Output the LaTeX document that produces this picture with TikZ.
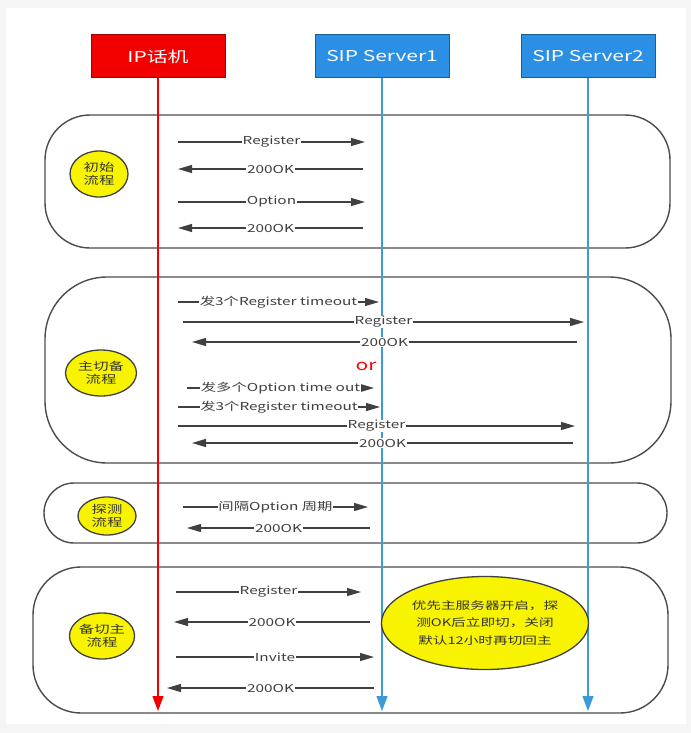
\documentclass[tikz,border=0pt]{standalone}
\usepackage{fontspec}
\setmainfont[FakeStretch=1.4]{Noto Sans CJK SC}
\usetikzlibrary{arrows.meta,shapes.geometric}
\definecolor{phonered}{HTML}{F20000}
\definecolor{srvblue}{HTML}{2B8FE3}
\definecolor{lifeblue}{HTML}{3C9AD8}
\definecolor{flowyellow}{HTML}{F8F400}
\tikzset{
  head/.style={draw=#1!65!black,fill=#1,text=white,line width=1bp,minimum width=134bp,minimum height=43bp,inner sep=0pt,font=\fontsize{15}{17}\selectfont},
  life/.style={draw=#1,line width=1.1bp,-{Triangle[length=15bp,width=11bp]}},
  flow/.style={draw=black!70,line width=1.4bp,fill=white},
  tag/.style={ellipse,draw=black!75,line width=1.3bp,fill=flowyellow,inner sep=0pt,minimum width=58bp,minimum height=46bp,align=center,text=black!80,font=\fontsize{11}{12.5}\selectfont},
  msg/.style={draw=black!75,line width=1.2bp,-{Triangle[length=14bp,width=8bp]}},
  lbl/.style={fill=white,inner sep=0.6bp,text=black!75,font=\fontsize{11}{13}\selectfont}
}
\begin{document}
\begin{tikzpicture}[x=1bp,y=-1bp]
\useasboundingbox (0,0) rectangle (691,733);
\fill[black!4] (0,0) rectangle (691,733);
\fill[white] (6,8) rectangle (686,724);
% flows
\draw[flow,rounded corners=45bp] (45,115) rectangle (670,248);
\draw[flow,rounded corners=62bp] (45,277) rectangle (671,463);
\draw[flow,rounded corners=30bp] (44,483) rectangle (667,543);
\draw[flow,rounded corners=48bp] (33,567) rectangle (668,713);
% heads and lifelines
\node[head=phonered] (phone) at (158,56.5) {IP话机};
\node[head=srvblue] (srvA) at (382,56.5) {SIP Server1};
\node[head=srvblue] (srvB) at (588,56.5) {SIP Server2};
\coordinate (phoneEnd) at (158,711);
\coordinate (srvAEnd) at (382,711);
\coordinate (srvBEnd) at (588,711);
\draw[life=phonered] (phone) -- (phoneEnd);
\draw[life=lifeblue] (srvA) -- (srvAEnd);
\draw[life=lifeblue] (srvB) -- (srvBEnd);
% messages
\foreach \y/\xa/\xb/\txt [count=\i] in {
  142/178/365/Register, 169/363/178/200OK, 202/178/365/Option, 228/363/178/200OK,
  302/178/379/发3个Register timeout, 322/183/584/Register, 342/577/192/200OK,
  388/187/374/发多个Option time out, 407/178/380/发3个Register timeout,
  426/178/575/Register, 443/573/192/200OK,
  507/183/368/间隔Option 周期, 528/370/187/200OK,
  592/176/361/Register, 622/370/174/200OK, 657/176/374/Invite, 688/374/167/200OK}{
  \coordinate (m\i-a) at (\xa,\y);
  \coordinate (m\i-b) at (\xb,\y);
  \draw[msg] (m\i-a) -- node[lbl] {\txt} (m\i-b);
}
\node[text=red,font=\fontsize{15}{16}\selectfont] (orTag) at (366,366) {or};
% flow tags
\node[tag] (tagInit) at (99,174) {初始\\流程};
\node[tag,minimum width=71bp] (tagSwitch) at (101,373) {主切备\\流程};
\node[tag,minimum height=38bp] (tagProbe) at (107,516) {探测\\流程};
\node[tag] (tagBack) at (102,636) {备切主\\流程};
\node[tag,minimum width=167bp,minimum height=93bp,font=\fontsize{10.5}{17.5}\selectfont] (note) at (485,623) {优先主服务器开启，探\\测OK后立即切，关闭\\默认12小时再切回主};
\end{tikzpicture}
\end{document}
